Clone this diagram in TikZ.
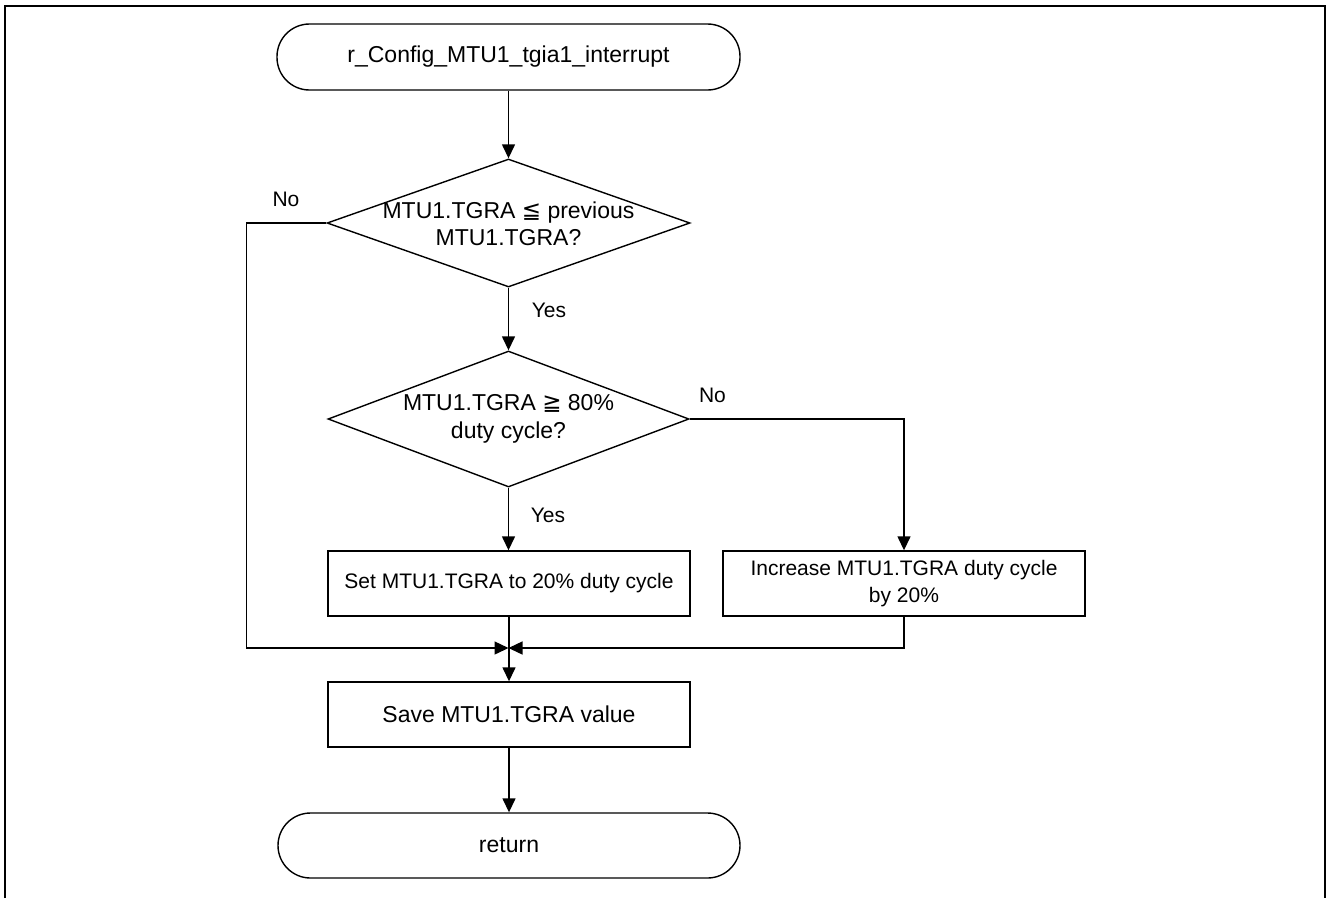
\documentclass[tikz,border=0pt]{standalone}
\usepackage{fontspec}
\setmainfont{Liberation Sans}
\newfontfamily\symfont{DejaVu Sans}
\usetikzlibrary{shapes.geometric,arrows.meta}
\begin{document}
\begin{tikzpicture}[x=1pt,y=-1pt,line width=1.4pt,
  term/.style={draw,rectangle,rounded corners=32.5pt,minimum width=463pt,minimum height=66pt,inner sep=0pt,font=\fontsize{23}{27}\selectfont},
  dia/.style={draw,diamond,inner sep=0pt},
  dtext/.style={align=center,inner sep=0pt,font=\fontsize{23}{27.5}\selectfont},
  procbox/.style={draw,rectangle,minimum width=362pt,minimum height=65pt,inner sep=0pt,align=center},
  lbl/.style={inner sep=0pt,font=\fontsize{21}{25}\selectfont},
  arr/.style={-{Triangle[length=14pt,width=13pt]}}]
\useasboundingbox (0,0) rectangle (1328,898);
\draw[line width=2.6pt] (5,898) -- (5,6) -- (1325,6) -- (1325,898);

\node[term] (start) at (508.5,57) {r\_Config\_MTU1\_tgia1\_interrupt};

\node[dia,minimum width=363pt,minimum height=128pt] (d1) at (508.5,223) {};
\node[dtext] (d1t) at (508.5,224) {MTU1.TGRA {\symfont ≦} previous\\MTU1.TGRA?};

\node[dia,minimum width=361pt,minimum height=136pt] (d2) at (508.5,419) {};
\node[dtext] (d2t) at (508.5,419) {MTU1.TGRA {\symfont ≧} 80\%\\duty cycle?};

\node[procbox,font=\fontsize{21}{27}\selectfont] (box1) at (509,583.5) {Set MTU1.TGRA to 20\% duty cycle};
\node[procbox,font=\fontsize{21}{27}\selectfont] (box2) at (904,583.5) {Increase MTU1.TGRA duty cycle\\by 20\%};
\node[procbox,font=\fontsize{23}{27}\selectfont] (save) at (509,714.5) {Save MTU1.TGRA value};
\node[term,minimum width=462pt,minimum height=65pt] (ret) at (509,845.5) {return};

\coordinate (m) at (508.5,648);

\node[lbl] (no1) at (286,199) {No};
\node[lbl] (yes1) at (549,310) {Yes};
\node[lbl] (no2) at (712.5,395) {No};
\node[lbl] (yes2) at (548,515) {Yes};

\draw[arr] (start.south) -- (d1.north);
\draw[arr] (d1.south) -- (d2.north);
\draw[arr] (d2.south) -- (d2.south |- box1.north);
\draw[arr] (d2.east) -| (box2.north);
\draw[arr] (d1.west) -- ++(-80,0) |- (m);
\draw[arr] (box2.south) |- (m);
\draw[arr] (box1.south) -- (box1.south |- save.north);
\draw[arr] (save.south) -- (save.south |- ret.north);
\end{tikzpicture}
\end{document}
